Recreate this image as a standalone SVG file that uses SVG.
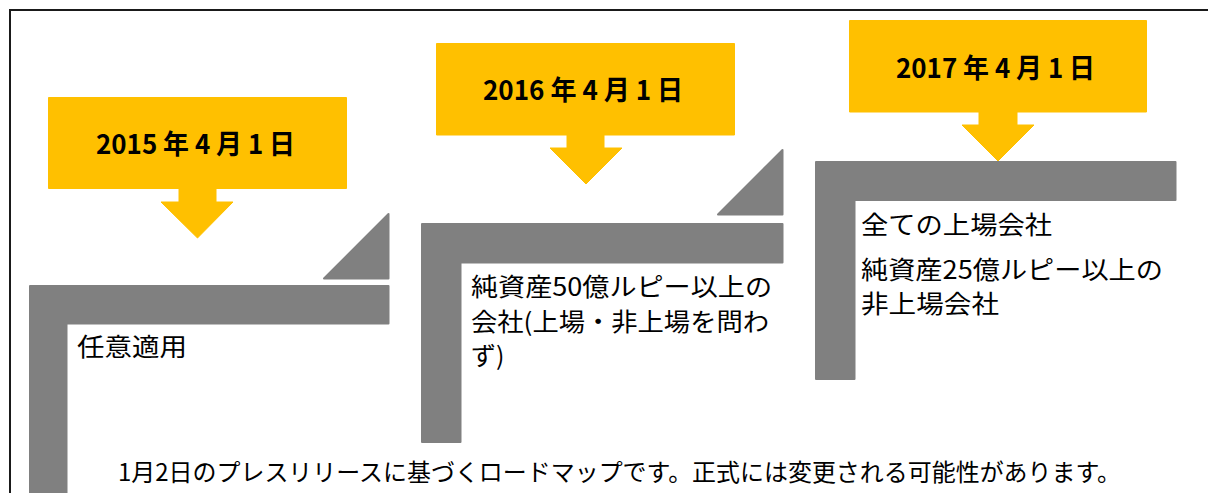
<svg xmlns="http://www.w3.org/2000/svg" width="1208" height="493" viewBox="0 0 1208 493">
<style>
.frame{fill:none;stroke:#1a1a1a;stroke-width:2}
.date{fill:#FFC000;stroke:#FFC000;stroke-width:1;stroke-linejoin:miter}
.step{fill:#808080;stroke:#808080;stroke-width:2;stroke-linejoin:round}
.dt{font-family:"Noto Sans CJK JP","Liberation Sans",sans-serif;font-weight:bold;font-size:27px;fill:#000}
.lb{font-family:"Noto Sans CJK JP","Liberation Sans",sans-serif;font-size:25px;fill:#000}
.ft{font-family:"Noto Sans CJK JP","Liberation Sans",sans-serif;font-size:24px;fill:#000}
</style>
<rect width="1208" height="493" fill="#fff"/>
<path class="frame" d="M10,500 V10 H1210"/>
<g id="connectors"></g>
<g id="node-2015">
  <path class="date" d="M48.5,97.5 H346.5 V188.5 H216 V202 H233 L197.5,238 L161,202 H179 V188.5 H48.5 Z"/>
  <text class="dt" x="96" y="154" textLength="199" lengthAdjust="spacingAndGlyphs">2015 年 4 月 1 日</text>
  <path class="step" d="M388.5,214 V278.5 H324 Z"/>
  <path class="step" d="M30,286 H388.5 V323.5 H66.5 V500 H30 Z"/>
  <text class="lb" x="77" y="356" textLength="110" lengthAdjust="spacingAndGlyphs">任意適用</text>
</g>
<g id="node-2016">
  <path class="date" d="M436.5,43.5 H734.5 V135 H604 V148 H622 L586,184 L550,148 H567 V135 H436.5 Z"/>
  <text class="dt" x="483" y="100" textLength="200" lengthAdjust="spacingAndGlyphs">2016 年 4 月 1 日</text>
  <path class="step" d="M782.5,150 V214.5 H718 Z"/>
  <path class="step" d="M422,224 H782.5 V262.5 H460.5 V442 H422 Z"/>
  <text class="lb" x="471" y="296" textLength="301" lengthAdjust="spacingAndGlyphs">純資産50億ルピー以上の</text>
  <text class="lb" x="471" y="331" textLength="298" lengthAdjust="spacingAndGlyphs">会社(上場・非上場を問わ</text>
  <text class="lb" x="471" y="365">ず)</text>
</g>
<g id="node-2017">
  <path class="date" d="M849.5,20.5 H1146.5 V112 H1017 V125 H1034 L998,161 L962,125 H979 V112 H849.5 Z"/>
  <text class="dt" x="896" y="78" textLength="199" lengthAdjust="spacingAndGlyphs">2017 年 4 月 1 日</text>
  <path class="step" d="M816,162 H1175.5 V200 H854.5 V379 H816 Z"/>
  <text class="lb" x="861" y="234" textLength="191" lengthAdjust="spacingAndGlyphs">全ての上場会社</text>
  <text class="lb" x="861" y="279" textLength="302" lengthAdjust="spacingAndGlyphs">純資産25億ルピー以上の</text>
  <text class="lb" x="861" y="313" textLength="138" lengthAdjust="spacingAndGlyphs">非上場会社</text>
</g>
<g id="note">
  <text class="ft" x="118" y="481" textLength="1003" lengthAdjust="spacingAndGlyphs">1月2日のプレスリリースに基づくロードマップです。正式には変更される可能性があります。</text>
</g>
</svg>
